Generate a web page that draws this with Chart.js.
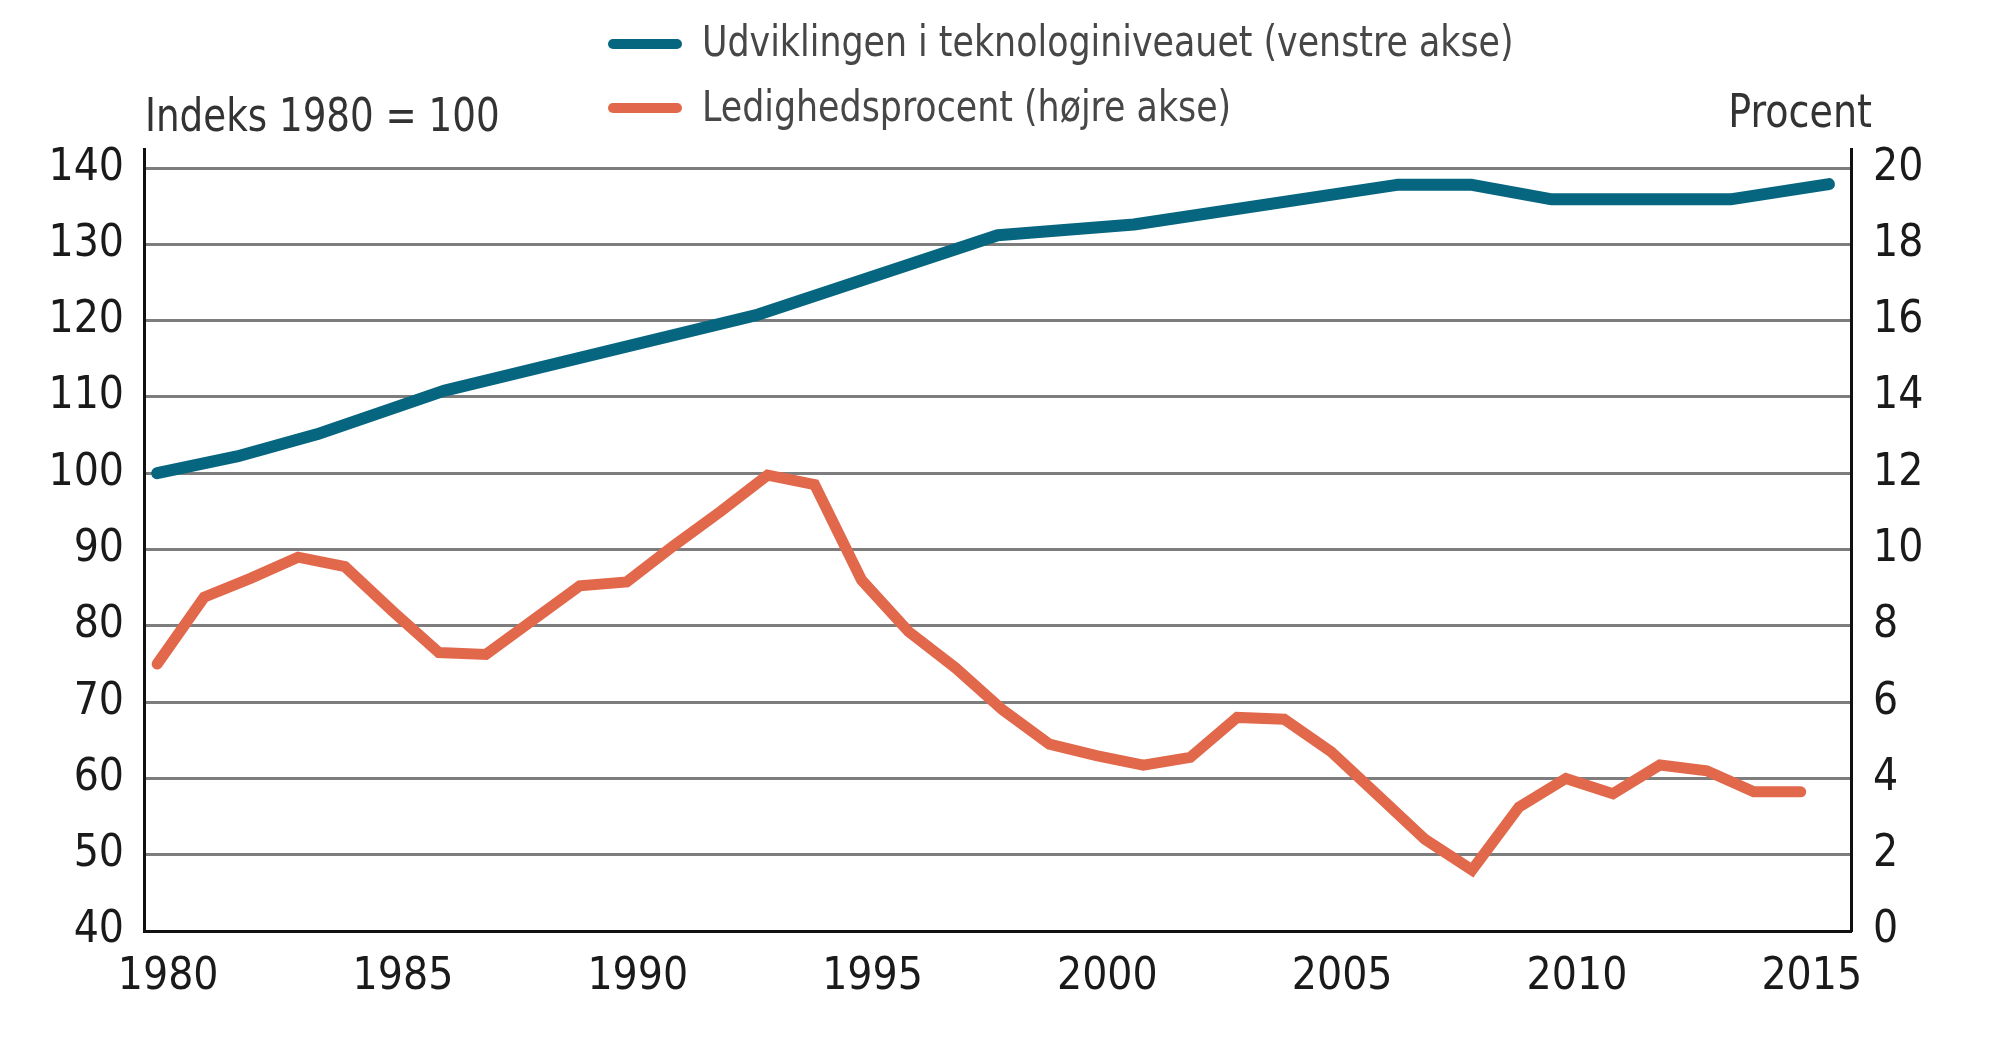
<!DOCTYPE html>
<html>
<head>
<meta charset="utf-8">
<script src="https://cdn.jsdelivr.net/npm/chart.js@4.4.1/dist/chart.umd.min.js"></script>
<style>
  html, body { margin: 0; padding: 0; background: #ffffff; }
  #wrap { width: 2000px; height: 1058px; position: relative; }
</style>
</head>
<body>
<div id="wrap"><canvas id="c" width="2000" height="1058"></canvas></div>
<script>
// ---- Data ----
const seriesLabels = ['Udviklingen i teknologiniveauet (venstre akse)', 'Ledighedsprocent (højre akse)'];
const leftAxisTitle = 'Indeks 1980 = 100';
const rightAxisTitle = 'Procent';

const unempYears = [1980, 1981, 1982, 1983, 1984, 1985, 1986, 1987, 1988, 1989,
                    1990, 1991, 1992, 1993, 1994, 1995, 1996, 1997, 1998, 1999,
                    2000, 2001, 2002, 2003, 2004, 2005, 2006, 2007, 2008, 2009,
                    2010, 2011, 2012, 2013, 2014, 2015];
const unempValues = [7.0, 8.75, 9.25, 9.8, 9.55, 8.4, 7.3, 7.25, 8.15, 9.05,
                     9.15, 10.1, 11.0, 11.95, 11.7, 9.2, 7.85, 6.9, 5.8, 4.9,
                     4.6, 4.35, 4.55, 5.6, 5.55, 4.7, 3.55, 2.4, 1.6, 3.25,
                     4.0, 3.6, 4.35, 4.2, 3.65, 3.65];

const techYears = [1980, 1981.7, 1983.4, 1986.1, 1992.8, 1997.9, 2000.8, 2006.4, 2008.0, 2009.7, 2013.5, 2015.6];
const techValues = [100, 102.2, 105.1, 110.8, 120.8, 131.2, 132.6, 137.8, 137.8, 135.9, 135.9, 137.9];

const xTickYears = [1980, 1985, 1990, 1995, 2000, 2005, 2010, 2015];
const leftTicks = [40, 50, 60, 70, 80, 90, 100, 110, 120, 130, 140];
const rightTicks = [0, 2, 4, 6, 8, 10, 12, 14, 16, 18, 20];

// ---- Styles ----
const FONT = "'DejaVu Sans Condensed', 'Liberation Sans Narrow', 'Roboto', sans-serif";
const BLUE = '#07667f';
const ORANGE = '#e2684b';
const GRID = '#7d7d7d';

function narrowText(ctx, text, x, y, align, sx) {
  ctx.save();
  ctx.translate(x, y);
  ctx.scale(sx, 1);
  ctx.textAlign = align;
  ctx.fillText(text, 0, 0);
  ctx.restore();
}

const textPlugin = {
  id: 'texts',
  afterDraw(chart) {
    const ctx = chart.ctx;
    const a = chart.chartArea;
    ctx.save();
    ctx.fillStyle = '#333333';
    ctx.font = '46px ' + FONT;
    ctx.textBaseline = 'alphabetic';
    narrowText(ctx, leftAxisTitle, a.left + 1, 131, 'left', 0.9);
    narrowText(ctx, rightAxisTitle, a.right + 21, 127, 'right', 0.92);

    // legend
    const rows = [56, 121];
    const lineY = [44, 108];
    chart.data.datasets.forEach((ds, i) => {
      ctx.strokeStyle = ds.borderColor;
      ctx.lineWidth = 10;
      ctx.lineCap = 'round';
      ctx.beginPath();
      ctx.moveTo(613, lineY[i]);
      ctx.lineTo(677, lineY[i]);
      ctx.stroke();
      ctx.fillStyle = '#474747';
      ctx.font = '43px ' + FONT;
      narrowText(ctx, ds.label, 702, rows[i], 'left', 0.9);
    });
    ctx.restore();
  }
};

const ctx = document.getElementById('c').getContext('2d');
new Chart(ctx, {
  type: 'line',
  data: {
    datasets: [
      {
        label: seriesLabels[0],
        data: techYears.map((x, i) => ({ x: x, y: techValues[i] })),
        borderColor: BLUE,
        backgroundColor: BLUE,
        borderWidth: 12,
        borderCapStyle: 'round',
        borderJoinStyle: 'round',
        pointRadius: 0,
        tension: 0,
        yAxisID: 'y',
        order: 1
      },
      {
        label: seriesLabels[1],
        data: unempYears.map((x, i) => ({ x: x, y: unempValues[i] })),
        borderColor: ORANGE,
        backgroundColor: ORANGE,
        borderWidth: 11,
        borderCapStyle: 'round',
        borderJoinStyle: 'miter',
        pointRadius: 0,
        tension: 0,
        yAxisID: 'y2',
        order: 2
      }
    ]
  },
  options: {
    responsive: false,
    animation: false,
    devicePixelRatio: 1,
    layout: { padding: { top: 149, left: 0, right: 0, bottom: 0 } },
    plugins: { legend: { display: false }, tooltip: { enabled: false }, title: { display: false } },
    scales: {
      x: {
        type: 'linear',
        min: 1979.72,
        max: 2016.07,
        afterBuildTicks: (s) => { s.ticks = xTickYears.map(v => ({ value: v })); },
        afterFit: (s) => { s.height = 127; },
        grid: { display: false, drawTicks: false },
        border: { display: true, color: '#111111', width: 3 },
        ticks: {
          padding: 20,
          labelOffset: 11,
          maxRotation: 0,
          autoSkip: false,
          color: '#1a1a1a',
          font: { family: FONT, size: 44 },
          callback: (v) => String(v)
        }
      },
      y: {
        type: 'linear',
        position: 'left',
        min: 40,
        max: 142.5,
        afterBuildTicks: (s) => { s.ticks = leftTicks.map(v => ({ value: v })); },
        afterFit: (s) => { s.width = 144; },
        grid: { display: true, color: GRID, lineWidth: 3, drawTicks: false },
        border: { display: true, color: '#111111', width: 3 },
        ticks: {
          padding: 20,
          color: '#1a1a1a',
          font: { family: FONT, size: 44 },
          callback: (v) => String(v)
        }
      },
      y2: {
        type: 'linear',
        position: 'right',
        min: 0,
        max: 20.5,
        afterBuildTicks: (s) => { s.ticks = rightTicks.map(v => ({ value: v })); },
        afterFit: (s) => { s.width = 149; },
        grid: { display: false, drawTicks: false },
        border: { display: true, color: '#111111', width: 3 },
        ticks: {
          padding: 22,
          color: '#1a1a1a',
          font: { family: FONT, size: 44 },
          callback: (v) => String(v)
        }
      }
    }
  },
  plugins: [textPlugin]
});
</script>
</body>
</html>
